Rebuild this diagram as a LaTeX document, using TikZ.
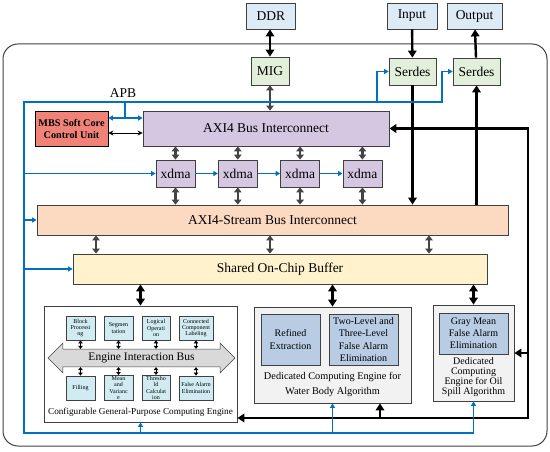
\documentclass[tikz,border=0pt]{standalone}
\usepackage{fontspec}
\setmainfont{Liberation Serif}
\usetikzlibrary{positioning,arrows.meta,calc,shapes.arrows}
\definecolor{linegray}{RGB}{64,64,64}
\definecolor{linkgray}{RGB}{68,68,68}
\definecolor{ctrlblue}{RGB}{0,112,192}
\definecolor{iofill}{RGB}{221,235,247}
\definecolor{phyfill}{RGB}{226,239,218}
\definecolor{mbsfill}{RGB}{240,130,120}
\definecolor{axifill}{RGB}{213,199,225}
\definecolor{streamfill}{RGB}{252,218,194}
\definecolor{bufferfill}{RGB}{255,242,204}
\definecolor{unitfill}{RGB}{208,236,242}
\definecolor{enginefill}{RGB}{242,242,242}
\definecolor{specialfill}{RGB}{184,204,228}
\definecolor{busfill}{RGB}{217,217,217}
\newcommand{\fsz}[2]{\fontsize{#1}{#2}\selectfont}

\begin{document}
\begin{tikzpicture}[
  x=1pt, y=-1pt,
  font=\fsz{13.5}{15},
  box/.style={rectangle, draw=linegray, line width=0.8pt, align=center,
    inner sep=1pt, text=black},
  iobox/.style={box, fill=iofill, minimum height=26pt},
  phybox/.style={box, fill=phyfill, minimum width=47pt, minimum height=27pt},
  axibox/.style={box, fill=axifill, minimum height=35pt},
  dmabox/.style={box, fill=axifill, minimum width=39pt, minimum height=27pt},
  unitbox/.style={box, fill=unitfill, minimum width=29pt, minimum height=24pt,
    font=\fsz{6}{6.4}},
  enginebox/.style={box, fill=enginefill},
  specialbox/.style={box, fill=specialfill, font=\fsz{10}{12.5}},
  boardframe/.style={rectangle, draw=linegray, line width=1pt, rounded corners=15pt},
  busshape/.style={double arrow, draw=linegray, fill=busfill, line width=0.6pt,
    double arrow head extend=6pt, inner xsep=0pt, inner ysep=3.5pt, font=\fsz{11.5}{12}},
  datalink/.style={{Triangle[length=7pt,width=8.5pt]}-{Triangle[length=7pt,width=8.5pt]},
    draw=black, line width=2.4pt},
  dataflow/.style={-{Triangle[length=7pt,width=8.5pt]}, draw=black, line width=2.4pt},
  buslink/.style={{Triangle[length=5pt,width=7.5pt]}-{Triangle[length=5pt,width=7.5pt]},
    draw=linkgray, line width=2.4pt},
  unitlink/.style={{Triangle[length=3pt,width=4.5pt]}-{Triangle[length=3pt,width=4.5pt]},
    draw=black, line width=1pt},
  mbslink/.style={{Stealth[length=5pt,width=5pt]}-{Stealth[length=5pt,width=5pt]},
    draw=black, line width=0.9pt},
  ctrl/.style={draw=ctrlblue, line width=1.3pt},
  ctrlflow/.style={ctrl, -{Triangle[length=4.5pt,width=5pt]}},
]
\useasboundingbox (0,0) rectangle (550,452);

% ---- board ----
\node[boardframe, minimum width=544pt, minimum height=402pt] (board) at (275,245) {};

% ---- off-chip and PHY ----
\node[iobox, minimum width=49pt] (ddr) at (271,16) {DDR};
\node[iobox, minimum width=50pt] (input) at (412,16) {Input};
\node[iobox, minimum width=55pt] (output) at (474.5,16) {Output};
\node[phybox, minimum width=38pt, minimum height=28pt] (mig) at (270,71) {MIG};
\node[phybox] (serdesin) at (412.5,71.5) {Serdes};
\node[phybox] (serdesout) at (476.5,71.5) {Serdes};

% ---- control, AXI, dma ----
\node[box, fill=mbsfill, draw=black, minimum width=73pt, minimum height=35pt,
  font=\fsz{10.2}{12}\bfseries] (mbs) at (71.5,128.5) {MBS Soft Core\\Control Unit};
\node[axibox, minimum width=246pt] (axi) at (266,128.5) {AXI4 Bus Interconnect};
\node[dmabox] (xdma1) at (175.5,173.5) {xdma};
\node[dmabox, right=22.5pt of xdma1] (xdma2) {xdma};
\node[dmabox, right=22.5pt of xdma2] (xdma3) {xdma};
\node[dmabox, right=22.5pt of xdma3] (xdma4) {xdma};
\node[box, fill=streamfill, minimum width=471pt, minimum height=30pt] (stream)
  at (272.5,220) {AXI4-Stream Bus Interconnect};
\node[box, fill=bufferfill, minimum width=414pt, minimum height=30pt] (buffer)
  at (280,269) {Shared On-Chip Buffer};
\node (apblbl) at (123,93) {APB};

% ---- general-purpose engine ----
\node[box, fill=white, minimum width=193pt, minimum height=116pt] (cgp) at (140.5,364) {};
\node[font=\fsz{9.2}{10}] (cgplbl) at (140.5,412) {Configurable General-Purpose Computing Engine};
\node[busshape, minimum height=187pt] (enginebus) at (141.5,358) {Engine Interaction Bus};
\node[unitbox] (block) at (80.5,328) {Block\\Processi\\ng};
\node[unitbox] (segment) at (118.5,328) {Segmen\\tation};
\node[unitbox, minimum width=28pt] (logic) at (156,328) {Logical\\Operati\\on};
\node[unitbox, minimum width=34pt] (ccl) at (196,328) {Connected\\Component\\Labeling};
\node[unitbox] (filling) at (80.5,388) {Filling};
\node[unitbox] (meanvar) at (118.5,388) {Mean\\and\\Varianc\\e};
\node[unitbox, minimum width=28pt] (threshold) at (156,388) {Thresho\\ld\\Calculat\\ion};
\node[unitbox, minimum width=34pt] (falsealarm) at (196,388) {False Alarm\\Elimination};

% ---- dedicated engines ----
\node[enginebox, minimum width=157pt, minimum height=96pt] (water) at (332.5,355) {};
\node[specialbox, minimum width=59pt, minimum height=51pt] (refined) at (290.5,339.5)
  {Refined\\Extraction};
\node[specialbox, minimum width=69pt, minimum height=51pt] (twolevel) at (363.5,339.5)
  {Two-Level and\\Three-Level\\False Alarm\\Elimination};
\node[font=\fsz{10.3}{15}, align=center] (waterlbl) at (332.5,384)
  {Dedicated Computing Engine for\\Water Body Algorithm};
\node[enginebox, minimum width=81pt, minimum height=96pt] (oil) at (473.5,353) {};
\node[specialbox, minimum width=69pt, minimum height=41pt, font=\fsz{10}{12}] (graymean)
  at (473.5,333.5) {Gray Mean\\False Alarm\\Elimination};
\node[font=\fsz{10}{10}, align=center] (oillbl) at (473.5,377.5)
  {Dedicated\\Computing\\Engine for Oil\\Spill Algorithm};

% ---- data paths ----
\draw[datalink] (mig.north |- ddr.south) -- (mig.north);
\draw[buslink] (mig.south) -- (mig.south |- axi.north);
\draw[dataflow] (input) -- (serdesin);
\draw[dataflow] (serdesout) -- (output);
\draw[dataflow] (serdesin.south) -- (serdesin.south |- stream.north);
\draw[dataflow] (serdesout.south |- stream.north) -- (serdesout.south);
\foreach \d in {1,...,4} {
  \draw[buslink] (xdma\d.north |- axi.south) -- (xdma\d.north);
  \draw[buslink] (xdma\d.south) -- (xdma\d.south |- stream.north);
}
\foreach \dx in {-176.5,-2.5,156.5}
  \draw[buslink] ([xshift=\dx pt]stream.south) -- ([xshift=\dx pt]stream.south |- buffer.north);
\foreach \e in {cgp,water,oil}
  \draw[datalink] (\e.north |- buffer.south) -- (\e.north);
\draw[mbslink] ([yshift=-4.5pt]mbs.east) -- ([yshift=-4.5pt]mbs.east -| axi.west);

% engine bus taps
\foreach \u in {block,segment,logic,ccl}
  \draw[unitlink] (\u.south) -- (\u.south |- enginebus.north);
\foreach \u in {filling,meanvar,threshold,falsealarm}
  \draw[unitlink] (\u.north |- enginebus.south) -- (\u.north);

% ---- return bus (right) ----
\coordinate (retbot) at (528,418);
\coordinate (waterin) at (380,418);
\draw[dataflow] (retbot) |- (axi.east);
\draw[dataflow, line cap=rect] (retbot) -- (retbot -| cgp.east);
\draw[dataflow] (oil.east -| retbot) -- (oil.east);
\draw[dataflow] (waterin) -- (waterin |- water.south);

% ---- APB control (blue) ----
\coordinate (apbtop) at (24,102);
\coordinate (apbbot) at (24,433);
\coordinate (apbturn1) at (377,102);
\coordinate (apbturn2) at (442,102);
\coordinate (apbjoin) at (125,102);
\coordinate (apbfork) at (125,118);
\draw[ctrlflow] (apbbot -| oil.south) -- (apbbot) -- (apbtop) -- (apbturn2) |- (serdesout.west);
\draw[ctrlflow] (apbturn1) |- (serdesin.west);
\draw[ctrl] (apbjoin) -- (apbfork);
\draw[ctrlflow] (apbfork) -- (apbfork -| mbs.east);
\draw[ctrlflow] (apbfork) -- (apbfork -| axi.west);
\draw[ctrlflow] (apbtop |- xdma1.west) -- (xdma1.west);
\draw[ctrlflow] (xdma1) -- (xdma2);
\draw[ctrlflow] (xdma2) -- (xdma3);
\draw[ctrlflow] (xdma3) -- (xdma4);
\draw[ctrlflow] (apbtop |- stream.west) -- (stream.west);
\draw[ctrlflow] (apbtop |- buffer.west) -- (buffer.west);
\foreach \e in {cgp,water,oil}
  \draw[ctrlflow] (apbbot -| \e.south) -- (\e.south);

\end{tikzpicture}
\end{document}
